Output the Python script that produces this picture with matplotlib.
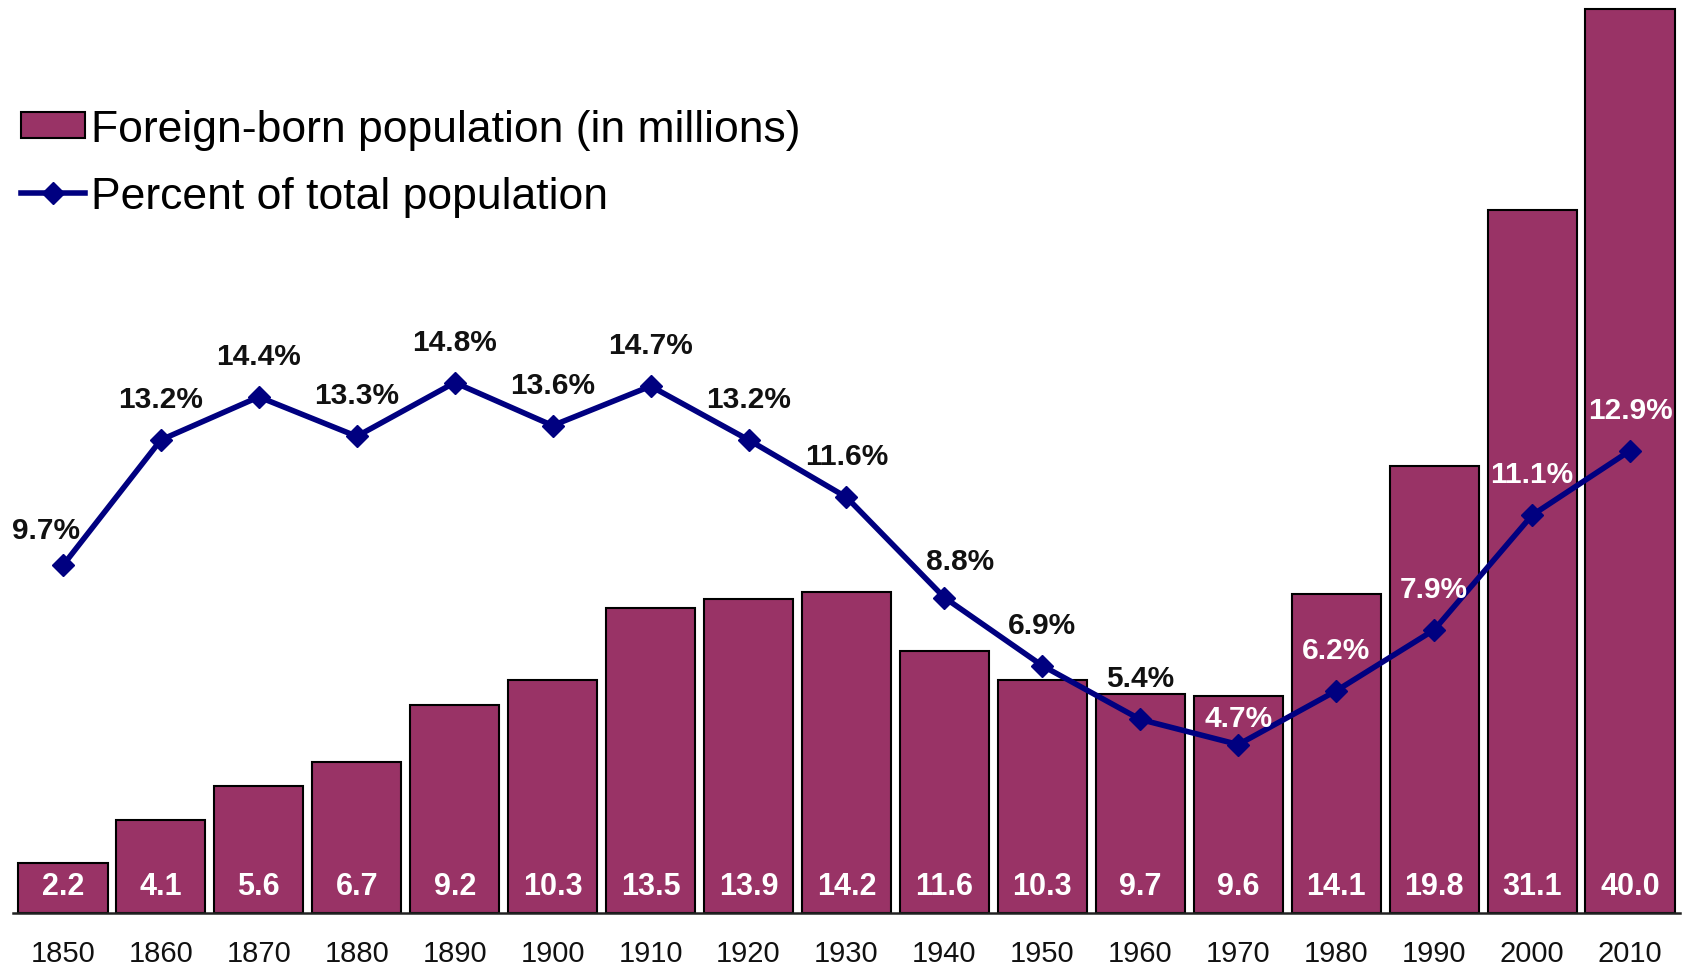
import numpy as np
import matplotlib
matplotlib.use("Agg")
from matplotlib import pyplot as plt

plt.rcParams['font.family'] = ['Liberation Sans', 'DejaVu Sans']

# data
years = ['1850', '1860', '1870', '1880', '1890', '1900', '1910', '1920', '1930',
         '1940', '1950', '1960', '1970', '1980', '1990', '2000', '2010']
foreign_born = [2.2, 4.1, 5.6, 6.7, 9.2, 10.3, 13.5, 13.9, 14.2,
                11.6, 10.3, 9.7, 9.6, 14.1, 19.8, 31.1, 40.0]
percent_total = [9.7, 13.2, 14.4, 13.3, 14.8, 13.6, 14.7, 13.2, 11.6,
                 8.8, 6.9, 5.4, 4.7, 6.2, 7.9, 11.1, 12.9]

bar_color = '#993366'
line_color = '#000080'

W, H = 1683, 970
fig = plt.figure(figsize=(W / 100, H / 100), dpi=100)

# axes placed in pixels: baseline at y=914, x from 13 to 1680
ax = fig.add_axes([13 / W, 1 - 914 / H, (1680 - 13) / W, 914 / H])
x = np.arange(len(years))

bars = ax.bar(x, foreign_born, width=0.91, color=bar_color,
              edgecolor='black', linewidth=1.5,
              label='Foreign-born population (in millions)')
ax.set_xlim(-0.51, len(years) - 0.49)
ax.set_ylim(0, 914 / 22.6)

for s in ['top', 'right', 'left']:
    ax.spines[s].set_visible(False)
ax.spines['bottom'].set_color('#222222')
ax.spines['bottom'].set_linewidth(1.8)
ax.set_yticks([])
ax.set_xticks(x)
ax.set_xticklabels(years, fontsize=21, color='#111111')
ax.tick_params(axis='x', length=0, pad=19)

for xi, v in zip(x, foreign_born):
    ax.annotate('%.1f' % v, (xi, 0), xytext=(0, 14), textcoords='offset points',
                ha='center', va='baseline', color='white',
                fontsize=22, fontweight='bold')

# percent line on its own scale, zero shared with the baseline
ax2 = ax.twinx()
ax2.set_ylim(0, 914 / 35.84)
ax2.set_yticks([])
for s in ax2.spines.values():
    s.set_visible(False)

line, = ax2.plot(x, percent_total, color=line_color, linewidth=4,
                 marker='D', markersize=11, label='Percent of total population')

# label nudges (points) where the reference shifts a label
nudge = {0: (-12, 20), 9: (11, 20.6), 12: (0, 13)}
for i, (xi, v) in enumerate(zip(x, percent_total)):
    dx, dy = nudge.get(i, (0, 23.8))
    col = 'white' if i >= 12 else '#111111'
    ax2.annotate('%.1f%%' % v, (xi, v), xytext=(dx, dy), textcoords='offset points',
                 ha='center', va='baseline', color=col,
                 fontsize=21.5, fontweight='bold')

fig.legend(handles=[bars, line], loc='upper left',
           bbox_to_anchor=(21 / W, 1 - 110 / H), bbox_transform=fig.transFigure,
           frameon=False, fontsize=32, borderpad=0, borderaxespad=0,
           handlelength=1.45, handleheight=0.52, handletextpad=0.12,
           labelspacing=0.58, numpoints=1)

fig.savefig('out.png', dpi=100)
